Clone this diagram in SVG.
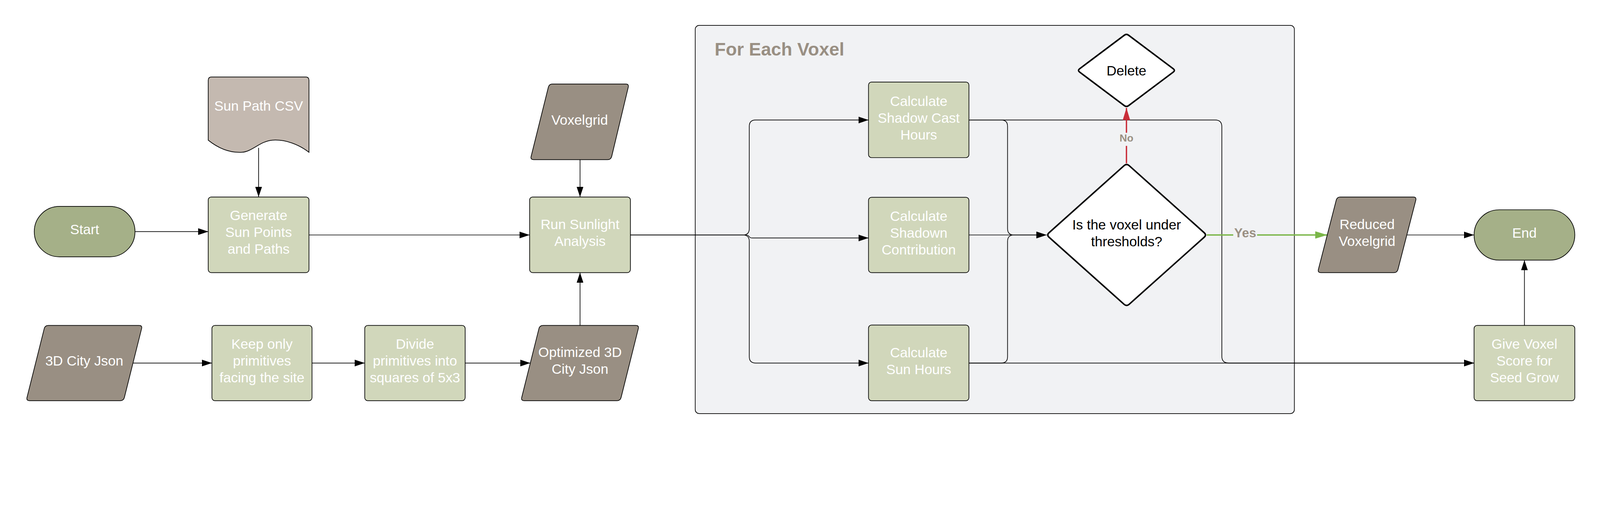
<svg xmlns="http://www.w3.org/2000/svg" width="4764" height="1307" viewBox="0 0 4764 1307" preserveAspectRatio="xMinYMin meet">
<defs>
<style>
@media (max-width: 4700px) { svg { width: 100vw; height: 100vh; } }
.proc{fill:#d1d7bb;stroke:#000;stroke-width:2}
.term{fill:#a5b088;stroke:#000;stroke-width:2}
.data{fill:#998f83;stroke:#000;stroke-width:2}
.doc{fill:#c4b9b0;stroke:#000;stroke-width:2}
.dec{fill:#fff;stroke:#000;stroke-width:4.5;stroke-linejoin:round}
.t{font-family:"Liberation Sans",Arial,sans-serif;font-size:41px;fill:#fff;text-anchor:middle}
.dk{fill:#000}
.conn{fill:none;stroke:#000;stroke-width:2}
.lbl{font-family:"Liberation Sans",Arial,sans-serif;font-weight:bold;fill:#9a9083;text-anchor:middle}
</style>
<marker id="ah" markerUnits="userSpaceOnUse" markerWidth="30" markerHeight="20" refX="30" refY="10" orient="auto"><path d="M0,0 L30,10 L0,20 Z" fill="#000"/></marker>
<marker id="ahr" markerUnits="userSpaceOnUse" markerWidth="36" markerHeight="22" refX="36" refY="11" orient="auto"><path d="M0,0 L36,11 L0,22 Z" fill="#c92d39"/></marker>
<marker id="ahg" markerUnits="userSpaceOnUse" markerWidth="36" markerHeight="22" refX="36" refY="11" orient="auto"><path d="M0,0 L36,11 L0,22 Z" fill="#7ab648"/></marker>
</defs>
<rect width="4764" height="1307" fill="#fff"/>

<g id="container">
<rect x="2070" y="75.5" width="1784" height="1155" rx="12" fill="#f1f2f4" stroke="#000" stroke-width="2"/>
<text x="2128" y="165" font-family="Liberation Sans, Arial, sans-serif" font-weight="bold" font-size="54" fill="#998f83">For Each Voxel</text>
</g>

<g id="connectors">
<path class="conn" d="M402,689 H620" marker-end="url(#ah)"/>
<path class="conn" d="M770,440 V586" marker-end="url(#ah)"/>
<path class="conn" d="M920,699 H1577" marker-end="url(#ah)"/>
<path class="conn" d="M1727,475 V586" marker-end="url(#ah)"/>
<path class="conn" d="M396,1080 H631" marker-end="url(#ah)"/>
<path class="conn" d="M929,1080 H1086" marker-end="url(#ah)"/>
<path class="conn" d="M1385,1080 H1579" marker-end="url(#ah)"/>
<path class="conn" d="M1727,968 V811" marker-end="url(#ah)"/>
<path class="conn" d="M1877,699 H2212 Q2231,699 2231,680 V376 Q2231,357 2250,357 H2586" marker-end="url(#ah)"/>
<path class="conn" d="M1877,699 H2218 Q2228,699 2230,703 Q2233,708 2240,708 H2586" marker-end="url(#ah)"/>
<path class="conn" d="M1877,699 H2212 Q2231,699 2231,718 V1061 Q2231,1080 2250,1080 H2586" marker-end="url(#ah)"/>
<path class="conn" d="M2885,357 H2981 Q3000,357 3000,376 V680 Q3000,699 3019,699 H3116" marker-end="url(#ah)"/>
<path class="conn" d="M2885,699 H3116" marker-end="url(#ah)"/>
<path class="conn" d="M2885,1080 H2981 Q3000,1080 3000,1061 V718 Q3000,699 3019,699 H3116" marker-end="url(#ah)"/>
<path class="conn" d="M2885,357 H3618 Q3638,357 3638,377 V1060 Q3638,1080 3658,1080 H4389" marker-end="url(#ah)"/>
<path class="conn" d="M2885,1080 H4389" marker-end="url(#ah)"/>
<path class="conn" d="M4189,699 H4389" marker-end="url(#ah)"/>
<path class="conn" d="M4539,968 V774" marker-end="url(#ah)"/>
<path d="M3354,486 V321" fill="none" stroke="#c92d39" stroke-width="4" marker-end="url(#ahr)"/>
<rect x="3333" y="395" width="42" height="39" fill="#f1f2f4"/>
<text class="lbl" x="3354" y="421" font-size="31">No</text>
<path d="M3593,699 H3952" fill="none" stroke="#7ab648" stroke-width="4" marker-end="url(#ahg)"/>
<rect x="3672" y="680" width="71" height="38" fill="#f1f2f4"/>
<text class="lbl" x="3707.5" y="706" font-size="38">Yes</text>
</g>

<g id="start">
<rect class="term" x="102" y="614" width="300" height="150" rx="75"/>
<text class="t" x="252" y="697">Start</text>
</g>

<g id="sun-path-csv">
<path class="doc" d="M630,229 H910 Q920,229 920,239 V453 C890,430 850,414 810,417 C775,420 750,451 721,453 C690,455 655,445 620,417 V239 Q620,229 630,229 Z"/>
<text class="t" x="770" y="329">Sun Path CSV</text>
</g>

<g id="generate">
<rect class="proc" x="620" y="586" width="300" height="225" rx="9"/>
<text class="t" x="770" y="655">Generate</text>
<text class="t" x="770" y="705">Sun Points</text>
<text class="t" x="770" y="755">and Paths</text>
</g>

<g id="city-json">
<path class="data" d="M144,968 H414 Q424,968 421.6,977.7 L370.4,1182.3 Q368,1192 358,1192 H88 Q78,1192 80.4,1182.3 L131.6,977.7 Q134,968 144,968 Z"/>
<text class="t" x="251" y="1087">3D City Json</text>
</g>

<g id="keep-only">
<rect class="proc" x="631" y="968" width="298" height="224" rx="9"/>
<text class="t" x="780" y="1037">Keep only</text>
<text class="t" x="780" y="1087">primitives</text>
<text class="t" x="780" y="1137">facing the site</text>
</g>

<g id="divide">
<rect class="proc" x="1086" y="968" width="299" height="224" rx="9"/>
<text class="t" x="1235.5" y="1037">Divide</text>
<text class="t" x="1235.5" y="1087">primitives into</text>
<text class="t" x="1235.5" y="1137">squares of 5x3</text>
</g>

<g id="optimized">
<path class="data" d="M1617,968 H1893 Q1903,968 1900.6,977.7 L1849.4,1182.3 Q1847,1192 1837,1192 H1561 Q1551,1192 1553.4,1182.3 L1604.6,977.7 Q1607,968 1617,968 Z"/>
<text class="t" x="1727" y="1062">Optimized 3D</text>
<text class="t" x="1727" y="1112">City Json</text>
</g>

<g id="voxelgrid">
<path class="data" d="M1645,250 H1863 Q1873,250 1870.6,259.7 L1821.4,465.3 Q1819,475 1809,475 H1589 Q1579,475 1581.4,465.3 L1632.6,259.7 Q1635,250 1645,250 Z"/>
<text class="t" x="1726" y="371">Voxelgrid</text>
</g>

<g id="run-sunlight">
<rect class="proc" x="1577" y="586" width="300" height="225" rx="9"/>
<text class="t" x="1727" y="681">Run Sunlight</text>
<text class="t" x="1727" y="731">Analysis</text>
</g>

<g id="calc-shadow-cast">
<rect class="proc" x="2586" y="244" width="299" height="225" rx="9"/>
<text class="t" x="2735.5" y="315">Calculate</text>
<text class="t" x="2735.5" y="365">Shadow Cast</text>
<text class="t" x="2735.5" y="415">Hours</text>
</g>

<g id="calc-shadow-contribution">
<rect class="proc" x="2586" y="587" width="299" height="224" rx="9"/>
<text class="t" x="2735.5" y="657">Calculate</text>
<text class="t" x="2735.5" y="707">Shadown</text>
<text class="t" x="2735.5" y="757">Contribution</text>
</g>

<g id="calc-sun-hours">
<rect class="proc" x="2586" y="967" width="299" height="225" rx="9"/>
<text class="t" x="2735.5" y="1063">Calculate</text>
<text class="t" x="2735.5" y="1113">Sun Hours</text>
</g>

<g id="delete">
<path class="dec" d="M3347.6,104.8 Q3354,100 3360.4,104.8 L3493.6,204.7 Q3500,209.5 3493.6,214.3 L3360.4,314.2 Q3354,319 3347.6,314.2 L3214.4,214.3 Q3208,209.5 3214.4,204.7 Z"/>
<text class="t dk" x="3354" y="224">Delete</text>
</g>

<g id="threshold-decision">
<path class="dec" d="M3347,492.7 Q3354.5,486 3362,492.7 L3585.5,692.3 Q3593,699 3585.5,705.7 L3362,905.3 Q3354.5,912 3347,905.3 L3123.5,705.7 Q3116,699 3123.5,692.3 Z"/>
<text class="t dk" x="3354.5" y="683">Is the voxel under</text>
<text class="t dk" x="3354.5" y="733">thresholds?</text>
</g>

<g id="reduced-voxelgrid">
<path class="data" d="M3991,586 H4208 Q4218,586 4215.5,595.7 L4162.5,801.3 Q4160,811 4150,811 H3933 Q3923,811 3925.5,801.3 L3978.5,595.7 Q3981,586 3991,586 Z"/>
<text class="t" x="4070.5" y="681">Reduced</text>
<text class="t" x="4070.5" y="731">Voxelgrid</text>
</g>

<g id="end">
<rect class="term" x="4389" y="624" width="300" height="150" rx="75"/>
<text class="t" x="4539" y="707">End</text>
</g>

<g id="give-voxel-score">
<rect class="proc" x="4389" y="968" width="300" height="224" rx="9"/>
<text class="t" x="4539" y="1038">Give Voxel</text>
<text class="t" x="4539" y="1088">Score for</text>
<text class="t" x="4539" y="1138">Seed Grow</text>
</g>
</svg>
